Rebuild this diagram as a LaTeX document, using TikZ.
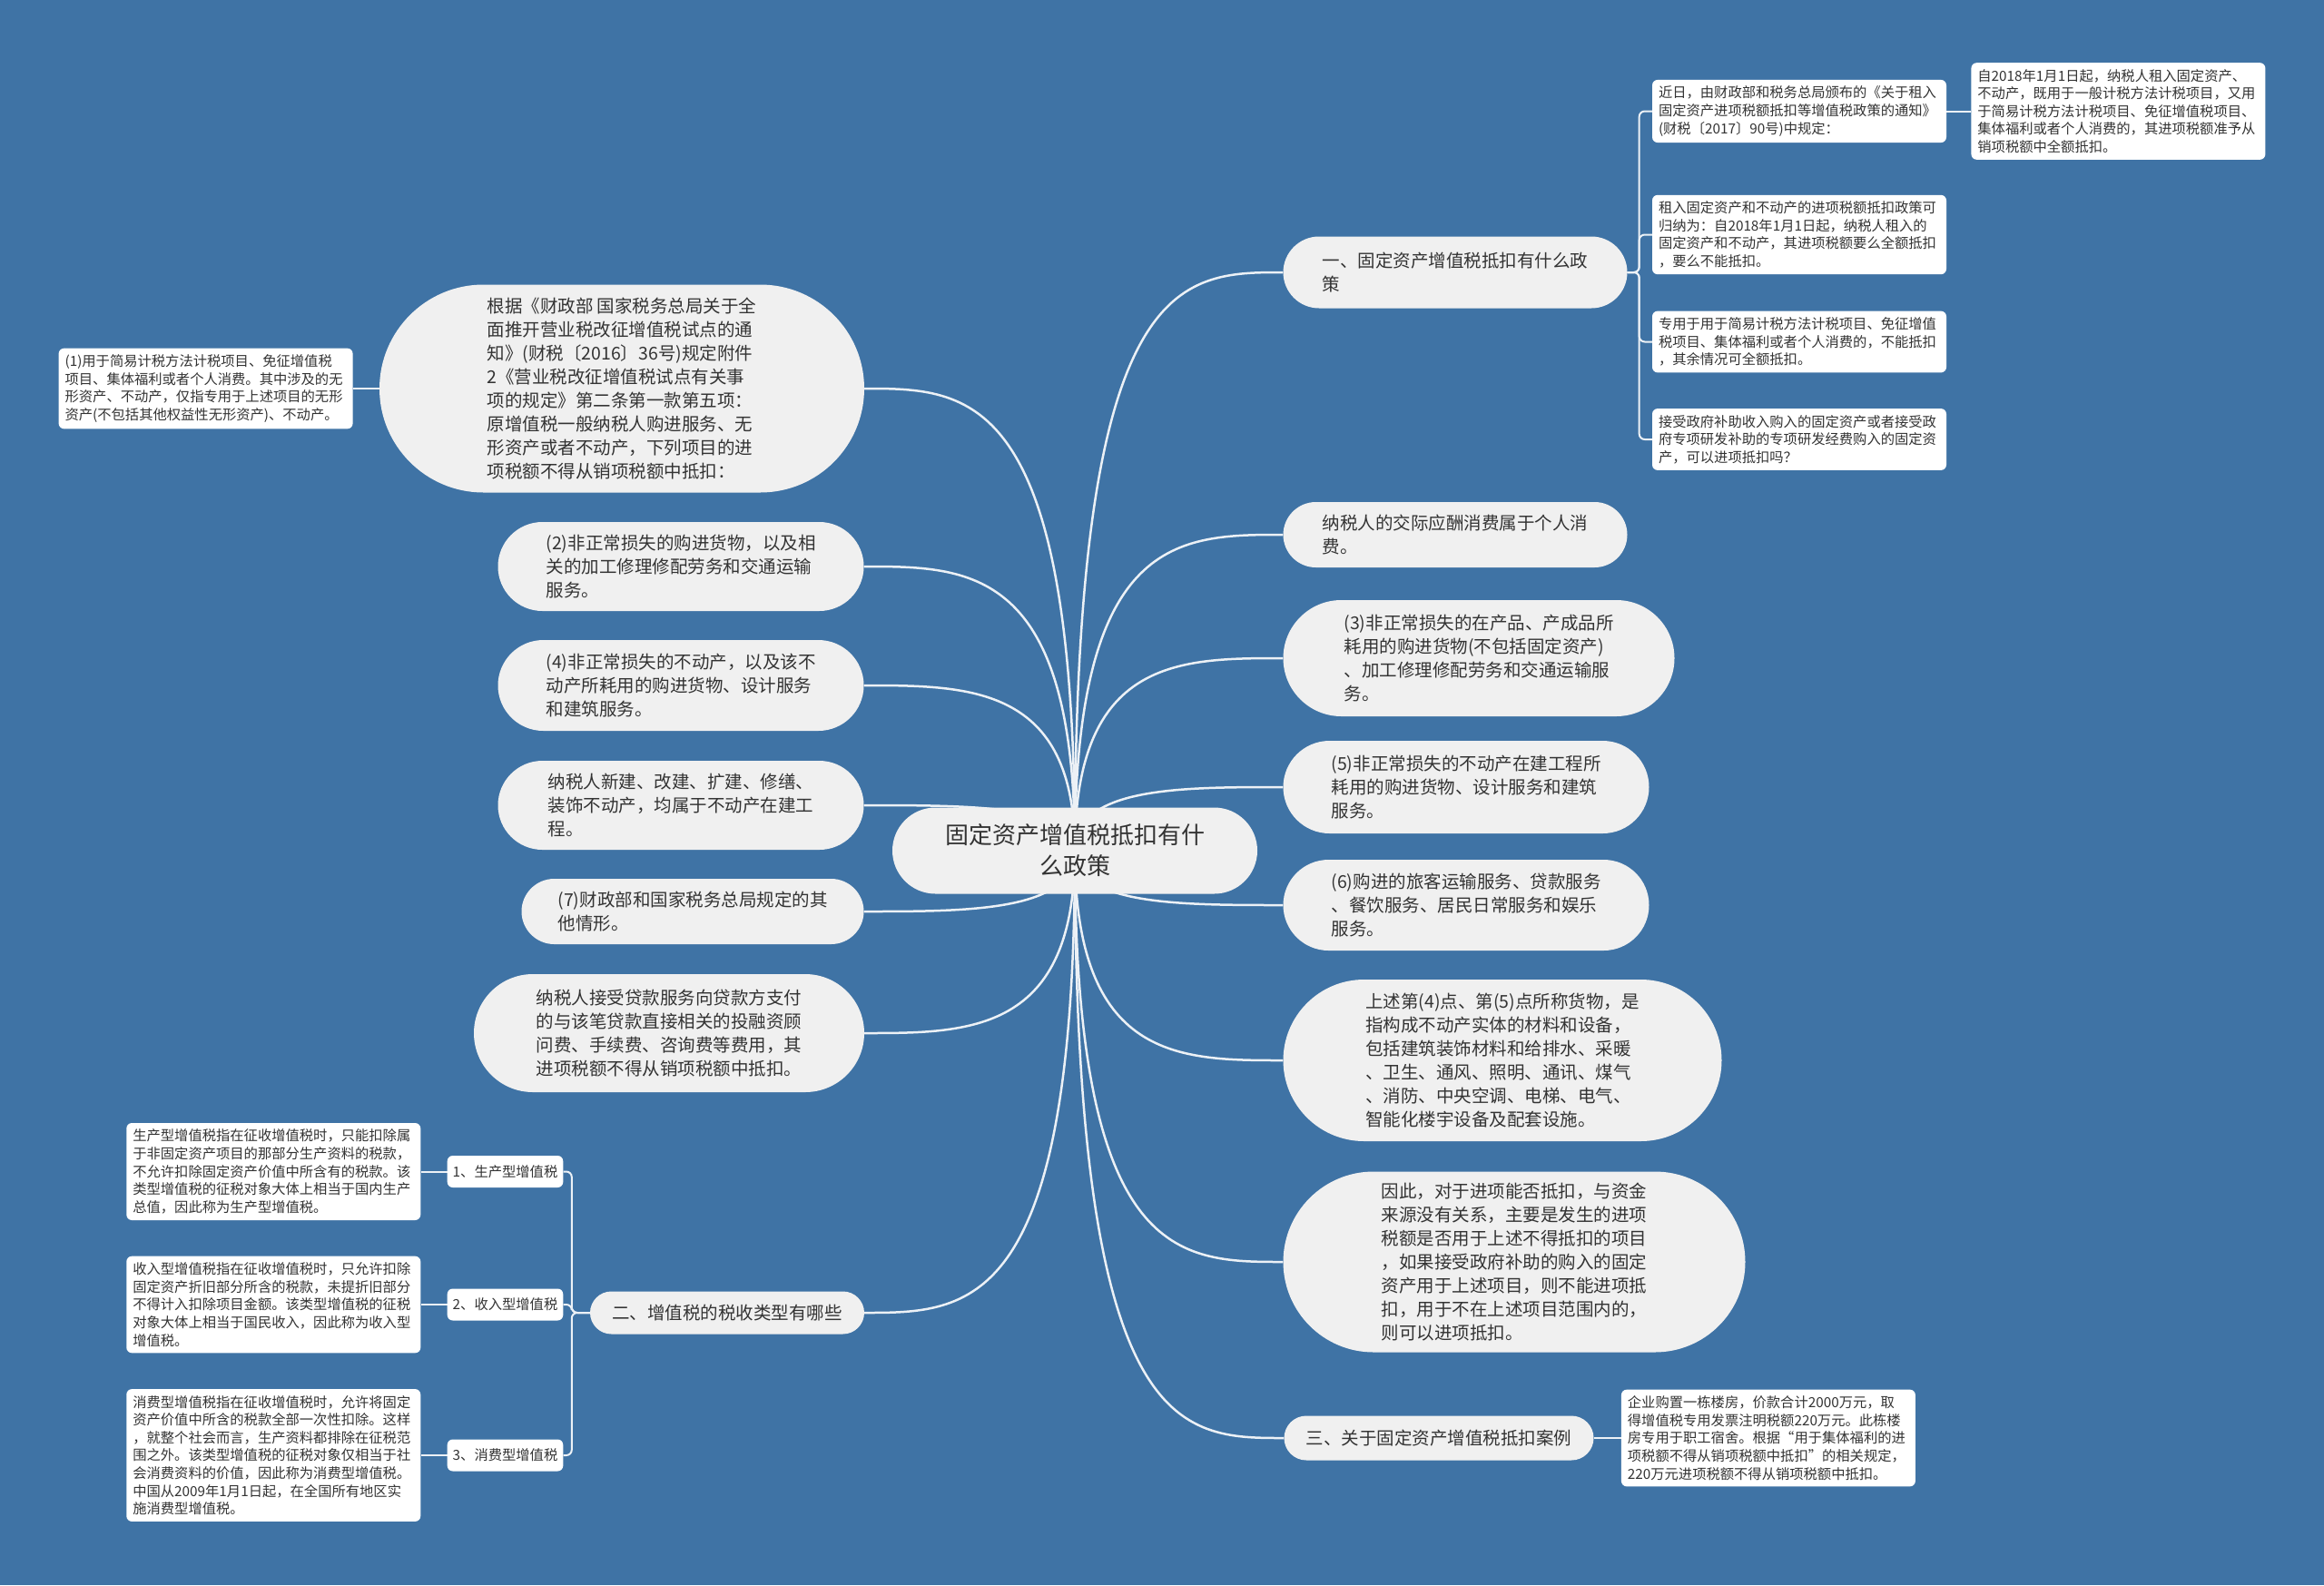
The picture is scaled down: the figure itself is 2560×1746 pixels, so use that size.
\documentclass[tikz,border=0pt]{standalone}
\usepackage{fontspec}
\setmainfont{Noto Sans CJK SC}
\usetikzlibrary{positioning,calc,backgrounds}
\definecolor{pageBlue}{RGB}{63,115,165}
\definecolor{nodeGray}{RGB}{240,240,240}
\definecolor{textDark}{RGB}{51,51,51}
\definecolor{lineWhite}{RGB}{236,241,246}
\newcommand\rootfont{\fontsize{26}{34}\selectfont}
\newcommand\topicfont{\fontsize{19.5}{26}\selectfont}
\newcommand\leaffont{\fontsize{15.3}{19.6}\selectfont}

\begin{document}
\begin{tikzpicture}[x=1pt,y=-1pt,
        pill/.style={fill=nodeGray,text=textDark,rounded corners=#1,minimum height={2*#1},
                     inner sep=0pt,align=left,font=\topicfont},
        leaf/.style={fill=white,text=textDark,rounded corners=6pt,text width=310pt,align=left,
                     inner xsep=7pt,inner ysep=7pt,font=\leaffont},
        tag/.style={fill=white,text=textDark,rounded corners=6pt,inner xsep=6pt,inner ysep=0pt,
                    minimum height=35pt,font=\leaffont},
        branch/.style={draw=lineWhite,line width=2.5pt},
        twig/.style={draw=lineWhite,line width=2pt,rounded corners=6pt}
    ]
    \useasboundingbox (0,0) rectangle (2560,1746);

    % centre
    \node[pill=47.5pt,minimum width=402pt,align=center,font=\rootfont] (root) at (1184,937)
        {固定资产增值税抵扣有什\\么政策};

    % right side
    \node[pill=39.5pt,minimum width=379pt] (r1) at (1603,300)
        {一、固定资产增值税抵扣有什么政\\策};
    \node[pill=36pt,minimum width=379pt] (r2) at (1603,589)
        {纳税人的交际应酬消费属于个人消\\费。};
    \node[pill=64pt,minimum width=431pt] (r3) at (1629,725)
        {(3)非正常损失的在产品、产成品所\\耗用的购进货物(不包括固定资产)\\、加工修理修配劳务和交通运输服\\务。};
    \node[pill=51pt,minimum width=403pt] (r4) at (1615,867)
        {(5)非正常损失的不动产在建工程所\\耗用的购进货物、设计服务和建筑\\服务。};
    \node[pill=50pt,minimum width=403pt] (r5) at (1615,997)
        {(6)购进的旅客运输服务、贷款服务\\、餐饮服务、居民日常服务和娱乐\\服务。};
    \node[pill=89pt,minimum width=483pt] (r6) at (1655,1168)
        {上述第(4)点、第(5)点所称货物，是\\指构成不动产实体的材料和设备，\\包括建筑装饰材料和给排水、采暖\\、卫生、通风、照明、通讯、煤气\\、消防、中央空调、电梯、电气、\\智能化楼宇设备及配套设施。};
    \node[pill=99.5pt,minimum width=509pt] (r7) at (1668,1390)
        {因此，对于进项能否抵扣，与资金\\来源没有关系，主要是发生的进项\\税额是否用于上述不得抵扣的项目\\，如果接受政府补助的购入的固定\\资产用于上述项目，则不能进项抵\\扣，用于不在上述项目范围内的，\\则可以进项抵扣。};
    \node[pill=24.5pt,minimum width=341pt] (r8) at (1585,1584)
        {三、关于固定资产增值税抵扣案例};

    % details of r1 and r8
    \node[leaf] (a1) at (1982,122.5)
        {近日，由财政部和税务总局颁布的《关于租入\\固定资产进项税额抵扣等增值税政策的通知》\\(财税〔2017〕90号)中规定：};
    \node[leaf,right=27pt of a1] (a1c)
        {自2018年1月1日起，纳税人租入固定资产、\\不动产，既用于一般计税方法计税项目，又用\\于简易计税方法计税项目、免征增值税项目、\\集体福利或者个人消费的，其进项税额准予从\\销项税额中全额抵扣。};
    \node[leaf] (a2) at (1982,258.5)
        {租入固定资产和不动产的进项税额抵扣政策可\\归纳为：自2018年1月1日起，纳税人租入的\\固定资产和不动产，其进项税额要么全额抵扣\\，要么不能抵扣。};
    \node[leaf] (a3) at (1982,376.5)
        {专用于用于简易计税方法计税项目、免征增值\\税项目、集体福利或者个人消费的，不能抵扣\\，其余情况可全额抵扣。};
    \node[leaf] (a4) at (1982,484)
        {接受政府补助收入购入的固定资产或者接受政\\府专项研发补助的专项研发经费购入的固定资\\产，可以进项抵扣吗？};
    \node[leaf,right=30pt of r8] (r8c)
        {企业购置一栋楼房，价款合计2000万元，取\\得增值税专用发票注明税额220万元。此栋楼\\房专用于职工宿舍。根据“用于集体福利的进\\项税额不得从销项税额中抵扣”的相关规定，\\220万元进项税额不得从销项税额中抵扣。};

    % left side
    \node[pill=114.5pt,minimum width=534pt] (l1) at (685,428)
        {根据《财政部 国家税务总局关于全\\面推开营业税改征增值税试点的通\\知》(财税〔2016〕36号)规定附件\\2《营业税改征增值税试点有关事\\项的规定》第二条第一款第五项：\\原增值税一般纳税人购进服务、无\\形资产或者不动产，下列项目的进\\项税额不得从销项税额中抵扣：};
    \node[leaf,left=29pt of l1] (l1c)
        {(1)用于简易计税方法计税项目、免征增值税\\项目、集体福利或者个人消费。其中涉及的无\\形资产、不动产，仅指专用于上述项目的无形\\资产(不包括其他权益性无形资产)、不动产。};
    \node[pill=49pt,minimum width=403pt] (l2) at (750,624)
        {(2)非正常损失的购进货物，以及相\\关的加工修理修配劳务和交通运输\\服务。};
    \node[pill=50pt,minimum width=403pt] (l3) at (750,755)
        {(4)非正常损失的不动产，以及该不\\动产所耗用的购进货物、设计服务\\和建筑服务。};
    \node[pill=49pt,minimum width=403pt] (l4) at (750,887)
        {纳税人新建、改建、扩建、修缮、\\装饰不动产，均属于不动产在建工\\程。};
    \node[pill=36pt,minimum width=377pt] (l5) at (763,1004)
        {(7)财政部和国家税务总局规定的其\\他情形。};
    \node[pill=65pt,minimum width=430pt] (l6) at (737,1138)
        {纳税人接受贷款服务向贷款方支付\\的与该笔贷款直接相关的投融资顾\\问费、手续费、咨询费等费用，其\\进项税额不得从销项税额中抵扣。};
    \node[pill=23.5pt,minimum width=302pt] (l7) at (801,1446)
        {二、增值税的税收类型有哪些};

    % VAT types
    \node[tag] (t1) at (556.5,1290.5) {1、生产型增值税};
    \node[tag] (t2) at (556.5,1437) {2、收入型增值税};
    \node[tag] (t3) at (556.5,1603) {3、消费型增值税};
    \node[leaf,left=29pt of t1] (t1c)
        {生产型增值税指在征收增值税时，只能扣除属\\于非固定资产项目的那部分生产资料的税款，\\不允许扣除固定资产价值中所含有的税款。该\\类型增值税的征税对象大体上相当于国内生产\\总值，因此称为生产型增值税。};
    \node[leaf,left=29pt of t2] (t2c)
        {收入型增值税指在征收增值税时，只允许扣除\\固定资产折旧部分所含的税款，未提折旧部分\\不得计入扣除项目金额。该类型增值税的征税\\对象大体上相当于国民收入，因此称为收入型\\增值税。};
    \node[leaf,left=29pt of t3] (t3c)
        {消费型增值税指在征收增值税时，允许将固定\\资产价值中所含的税款全部一次性扣除。这样\\，就整个社会而言，生产资料都排除在征税范\\围之外。该类型增值税的征税对象仅相当于社\\会消费资料的价值，因此称为消费型增值税。\\中国从2009年1月1日起，在全国所有地区实\\施消费型增值税。};

    % connectors behind the nodes
    \begin{scope}[on background layer]
        \fill[pageBlue] (0,0) rectangle (2560,1746);
        \foreach \n in {r1,r2,r3,r4,r5,r6,r7,r8}
            \draw[branch] (root.center) .. controls (root.center |- \n.west)
                and ($(root.center |- \n.west)!0.5!(\n.west)$) .. (\n.west);
        \foreach \n in {l1,l2,l3,l4,l5,l6,l7}
            \draw[branch] (root.center) .. controls (root.center |- \n.east)
                and ($(root.center |- \n.east)!0.5!(\n.east)$) .. (\n.east);
        \foreach \n in {a1,a2,a3,a4}
            \draw[twig] (r1.east) -- ++(13,0) |- (\n.west);
        \foreach \n in {t1,t2,t3}
            \draw[twig] (l7.west) -- ++(-20,0) |- (\n.east);
        \draw[twig] (a1.east) -- (a1c.west);
        \draw[twig] (r8.east) -- (r8c.west);
        \draw[twig] (l1.west) -- (l1c.east);
        \draw[twig] (t1.west) -- (t1c.east);
        \draw[twig] (t2.west) -- (t2c.east);
        \draw[twig] (t3.west) -- (t3c.east);
    \end{scope}
\end{tikzpicture}
\end{document}
